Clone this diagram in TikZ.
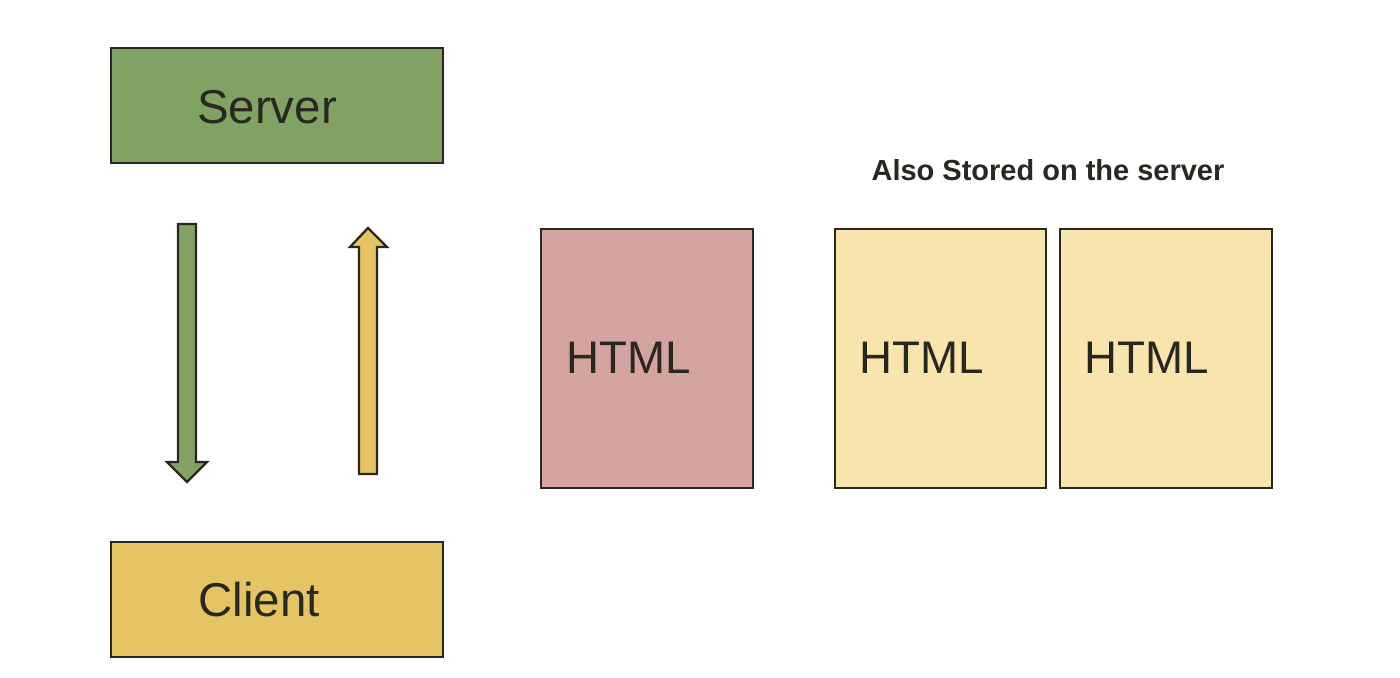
\documentclass[tikz,border=0pt]{standalone}
\usepackage{fontspec}
\setmainfont{Liberation Sans}
\definecolor{sgreen}{RGB}{130,162,100}
\definecolor{cyellow}{RGB}{229,196,100}
\definecolor{hpink}{RGB}{212,165,160}
\definecolor{hlight}{RGB}{248,229,174}
\definecolor{ink}{RGB}{40,40,32}
\begin{document}
\begin{tikzpicture}[x=0.02cm,y=-0.02cm,
  box/.style={draw=ink,line width=1.3pt},
  bigtxt/.style={text=ink,font=\fontsize{27}{30}\selectfont},
  htmltxt/.style={text=ink,font=\fontsize{26}{30}\selectfont,anchor=west},
  blockarrow/.style={draw=ink,line width=1.3pt,line join=miter}]
\useasboundingbox (0,0) rectangle (1400,678);
% server and client
\draw[box,fill=sgreen] (111,48) rectangle (443,163);
\node[bigtxt] (server) at (267,107) {Server};
\draw[box,fill=cyellow] (111,542) rectangle (443,657);
\node[bigtxt] (client) at (259,600) {Client};
% block arrows
\draw[blockarrow,fill=sgreen] (178,224) -- (196,224) -- (196,462) -- (207,462) -- (187,482) -- (167,462) -- (178,462) -- cycle;
\draw[blockarrow,fill=cyellow] (359,474) -- (377,474) -- (377,247) -- (387,247) -- (368,228) -- (350,247) -- (359,247) -- cycle;
% HTML pages
\draw[box,fill=hpink] (541,229) rectangle (753,488);
\node[htmltxt] (h1) at (560,358) {HTML};
\draw[box,fill=hlight] (835,229) rectangle (1046,488);
\node[htmltxt] (h2) at (853,358) {HTML};
\draw[box,fill=hlight] (1060,229) rectangle (1272,488);
\node[htmltxt] (h3) at (1078,358) {HTML};
\node[text=ink,font=\fontsize{16.5}{18}\selectfont\bfseries] (lbl) at (1048,170) {Also Stored on the server};
\end{tikzpicture}
\end{document}
